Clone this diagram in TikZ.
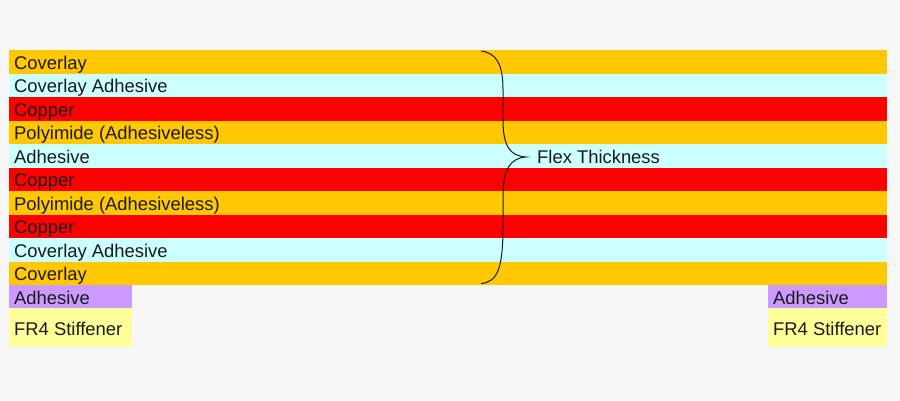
\documentclass[tikz,border=0pt]{standalone}
\usepackage{fontspec}
\setmainfont{Liberation Sans}
\definecolor{bgc}{HTML}{F7F7F7}
\definecolor{orangeL}{HTML}{FFC800}
\definecolor{cyanL}{HTML}{CCFFFF}
\definecolor{redL}{HTML}{FF0000}
\definecolor{purpleL}{HTML}{CC99FF}
\definecolor{yellowL}{HTML}{FFFF99}
\definecolor{txt}{HTML}{1A1A1A}
\tikzset{
  layerbox/.style={anchor=north west, draw=none, inner sep=0pt, outer sep=0pt, minimum width=878pt, minimum height=23.5pt},
  stiffbox/.style={anchor=north west, draw=none, inner sep=0pt, outer sep=0pt, minimum width=#1},
  lbl/.style={anchor=base west, inner sep=0pt, font=\fontsize{18.4}{21}\selectfont, text=txt},
}
\begin{document}
\begin{tikzpicture}[x=1pt,y=-1pt]
\fill[bgc] (0,0) rectangle (900,400);
\useasboundingbox (0,0) rectangle (900,400);
% layers
\node[layerbox, fill=orangeL] (L1) at (9,50) {};
\node[layerbox, fill=cyanL] (L2) at (9,73.5) {};
\node[layerbox, fill=redL] (L3) at (9,97) {};
\node[layerbox, fill=orangeL] (L4) at (9,120.5) {};
\node[layerbox, fill=cyanL] (L5) at (9,144) {};
\node[layerbox, fill=redL] (L6) at (9,167.5) {};
\node[layerbox, fill=orangeL] (L7) at (9,191) {};
\node[layerbox, fill=redL] (L8) at (9,214.5) {};
\node[layerbox, fill=cyanL] (L9) at (9,238) {};
\node[layerbox, fill=orangeL] (L10) at (9,261.5) {};
% stiffeners
\node[stiffbox=123pt, minimum height=23pt, fill=purpleL] (AL) at (9,285) {};
\node[stiffbox=123pt, minimum height=38.5pt, fill=yellowL] (FL) at (9,308) {};
\node[stiffbox=119pt, minimum height=23pt, fill=purpleL] (AR) at (768,285) {};
\node[stiffbox=119pt, minimum height=38.5pt, fill=yellowL] (FR) at (768,308) {};
% labels
\node[lbl] (t1) at (14,69) {Coverlay};
\node[lbl] (t2) at (14,92.5) {Coverlay Adhesive};
\node[lbl] (t3) at (14,116) {Copper};
\node[lbl] (t4) at (14,139.5) {Polyimide (Adhesiveless)};
\node[lbl] (t5) at (14,163) {Adhesive};
\node[lbl] (t6) at (14,186.5) {Copper};
\node[lbl] (t7) at (14,210) {Polyimide (Adhesiveless)};
\node[lbl] (t8) at (14,233.5) {Copper};
\node[lbl] (t9) at (14,257) {Coverlay Adhesive};
\node[lbl] (t10) at (14,280.5) {Coverlay};
\node[lbl] (ta1) at (14,304) {Adhesive};
\node[lbl] (tf1) at (14,335) {FR4 Stiffener};
\node[lbl] (ta2) at (773,304) {Adhesive};
\node[lbl] (tf2) at (773,335) {FR4 Stiffener};
\node[lbl] (flex) at (537,163) {Flex Thickness};
% brace
\draw[txt, line width=1pt]
  (481,51) .. controls (497,53) and (503,65) .. (503,90)
  -- (503,120) .. controls (503,146) and (510,156) .. (526,157)
  .. controls (510,158) and (503,170) .. (503,196)
  -- (503,226) .. controls (503,270) and (497,282) .. (481,283.5);
\end{tikzpicture}
\end{document}
